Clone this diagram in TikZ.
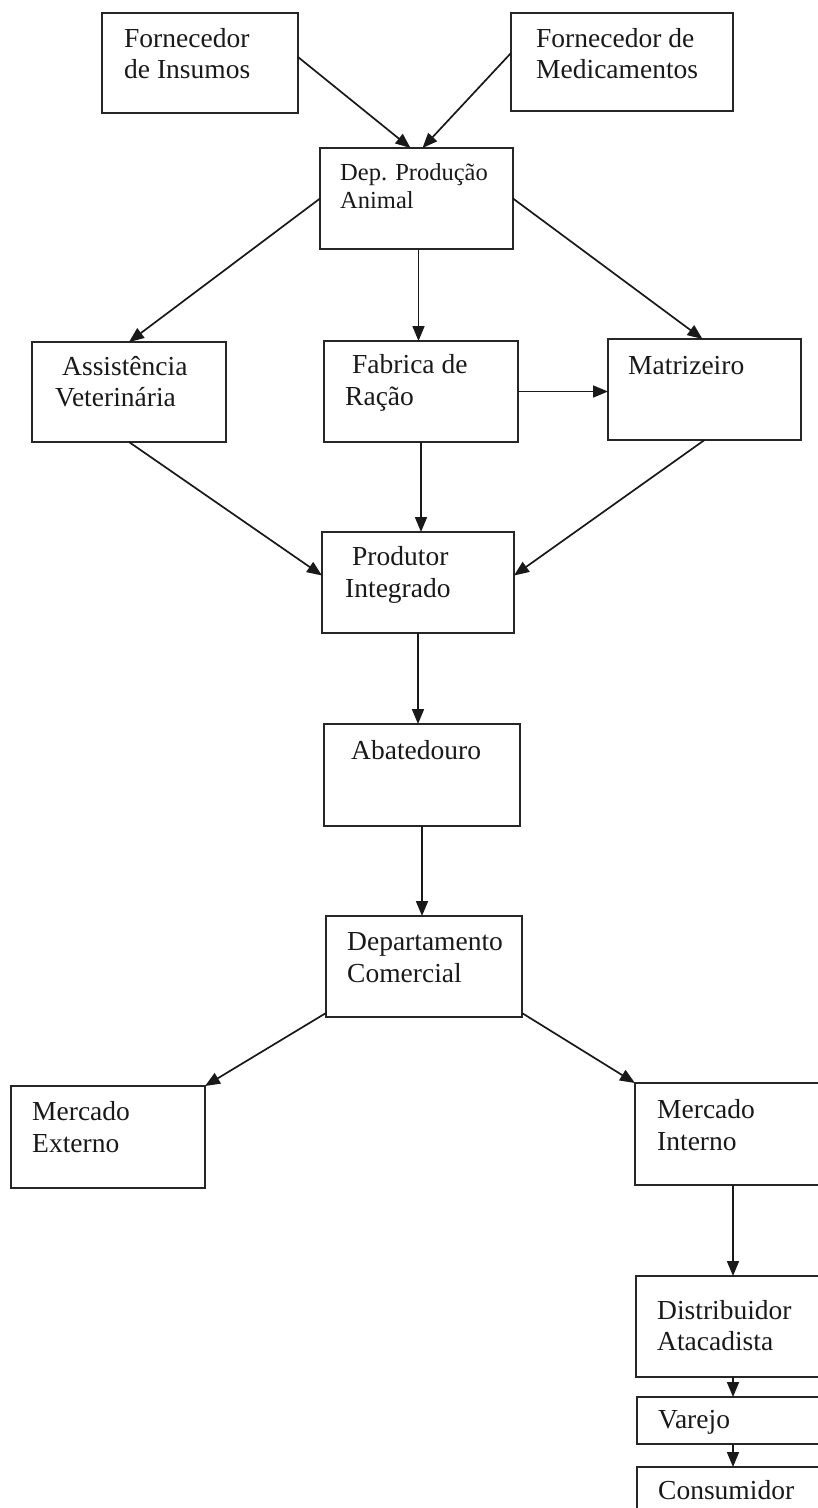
\documentclass[tikz,border=0pt]{standalone}
\usepackage{fontspec}
\setmainfont{Liberation Serif}
\usetikzlibrary{arrows.meta}
\begin{document}
\begin{tikzpicture}[x=1pt,y=-1pt,
  box/.style={draw=black!85, line width=1.9pt, inner sep=0pt, outer sep=0pt, anchor=north west},
  txt/.style={inner sep=0pt, anchor=base west, font=\fontsize{27.5}{31}\selectfont, text=black!90},
  stxt/.style={txt, font=\fontsize{24.5}{28}\selectfont},
  arr/.style={draw=black!90, line width=1.7pt, -{Triangle[length=15pt,width=12pt]}}]
\useasboundingbox (0,0) rectangle (818,1508);
% boxes
\node[box, minimum width=196pt, minimum height=100pt] (ins) at (102,13) {};
\node[box, minimum width=222pt, minimum height=98pt] (med) at (511,13) {};
\node[box, minimum width=193pt, minimum height=101pt] (dep) at (320,148) {};
\node[box, minimum width=194pt, minimum height=100pt] (ass) at (32,342) {};
\node[box, minimum width=194pt, minimum height=101pt] (fab) at (324,341) {};
\node[box, minimum width=193pt, minimum height=101pt] (mat) at (608,339) {};
\node[box, minimum width=192pt, minimum height=101pt] (pro) at (322,532) {};
\node[box, minimum width=196pt, minimum height=102pt] (aba) at (324,724) {};
\node[box, minimum width=196pt, minimum height=101pt] (com) at (326,916) {};
\node[box, minimum width=194pt, minimum height=102pt] (ext) at (11,1086) {};
\node[box, minimum width=196pt, minimum height=102pt] (int) at (635,1083) {};
\node[box, minimum width=194pt, minimum height=101pt] (dis) at (636,1276) {};
\node[box, minimum width=192pt, minimum height=47pt] (var) at (637,1397) {};
\node[box, minimum width=192pt, minimum height=70pt] (con) at (637,1467) {};
% texts
\node[txt] (ins1) at (124,47) {Fornecedor};
\node[txt] (ins2) at (124,78) {de Insumos};
\node[txt] (med1) at (536,47) {Fornecedor de};
\node[txt] (med2) at (536,78) {Medicamentos};
\node[stxt] (dep1) at (340,180) {Dep. Produção};
\node[stxt] (dep2) at (340,208) {Animal};
\node[txt] (ass1) at (62,375) {Assistência};
\node[txt] (ass2) at (55,406) {Veterinária};
\node[txt] (fab1) at (352,373) {Fabrica de};
\node[txt] (fab2) at (345,405) {Ração};
\node[txt] (mat1) at (628,374) {Matrizeiro};
\node[txt] (pro1) at (352,565) {Produtor};
\node[txt] (pro2) at (345,597) {Integrado};
\node[txt] (aba1) at (351,759) {Abatedouro};
\node[txt] (com1) at (347,950) {Departamento};
\node[txt] (com2) at (347,982) {Comercial};
\node[txt] (ext1) at (32,1120) {Mercado};
\node[txt] (ext2) at (32,1152) {Externo};
\node[txt] (int1) at (657,1118) {Mercado};
\node[txt] (int2) at (657,1150) {Interno};
\node[txt] (dis1) at (657,1319) {Distribuidor};
\node[txt] (dis2) at (657,1350) {Atacadista};
\node[txt] (var1) at (658,1428) {Varejo};
\node[txt] (con1) at (658,1499) {Consumidor};
% connectors
\draw[arr] ([yshift=6pt]ins.east) -- ([xshift=-6pt]dep.north);
\draw[arr] ([yshift=9pt]med.west) -- ([xshift=6pt]dep.north);
\draw[arr] (dep.west) -- (ass.north);
\draw[arr] ([xshift=2pt]dep.south) -- ([xshift=2pt]dep.south |- fab.north);
\draw[arr] (dep.east) -- ([xshift=-2pt]mat.north);
\draw[arr] (fab.east) -- (fab.east -| mat.west);
\draw[arr] (ass.south) -- ([yshift=7pt]pro.west);
\draw[arr] (fab.south) -- (fab.south |- pro.north);
\draw[arr] (mat.south) -- ([yshift=7pt]pro.east);
\draw[arr] (pro.south) -- (pro.south |- aba.north);
\draw[arr] (aba.south) -- (aba.south |- com.north);
\draw[arr] ([yshift=4pt]com.south west) -- (ext.north east);
\draw[arr] ([yshift=4pt]com.south east) -- (int.north west);
\draw[arr] (int.south) -- (dis.north);
\draw[arr] (dis.south) -- (var.north);
\draw[arr] (var.south) -- (con.north);
\end{tikzpicture}
\end{document}
